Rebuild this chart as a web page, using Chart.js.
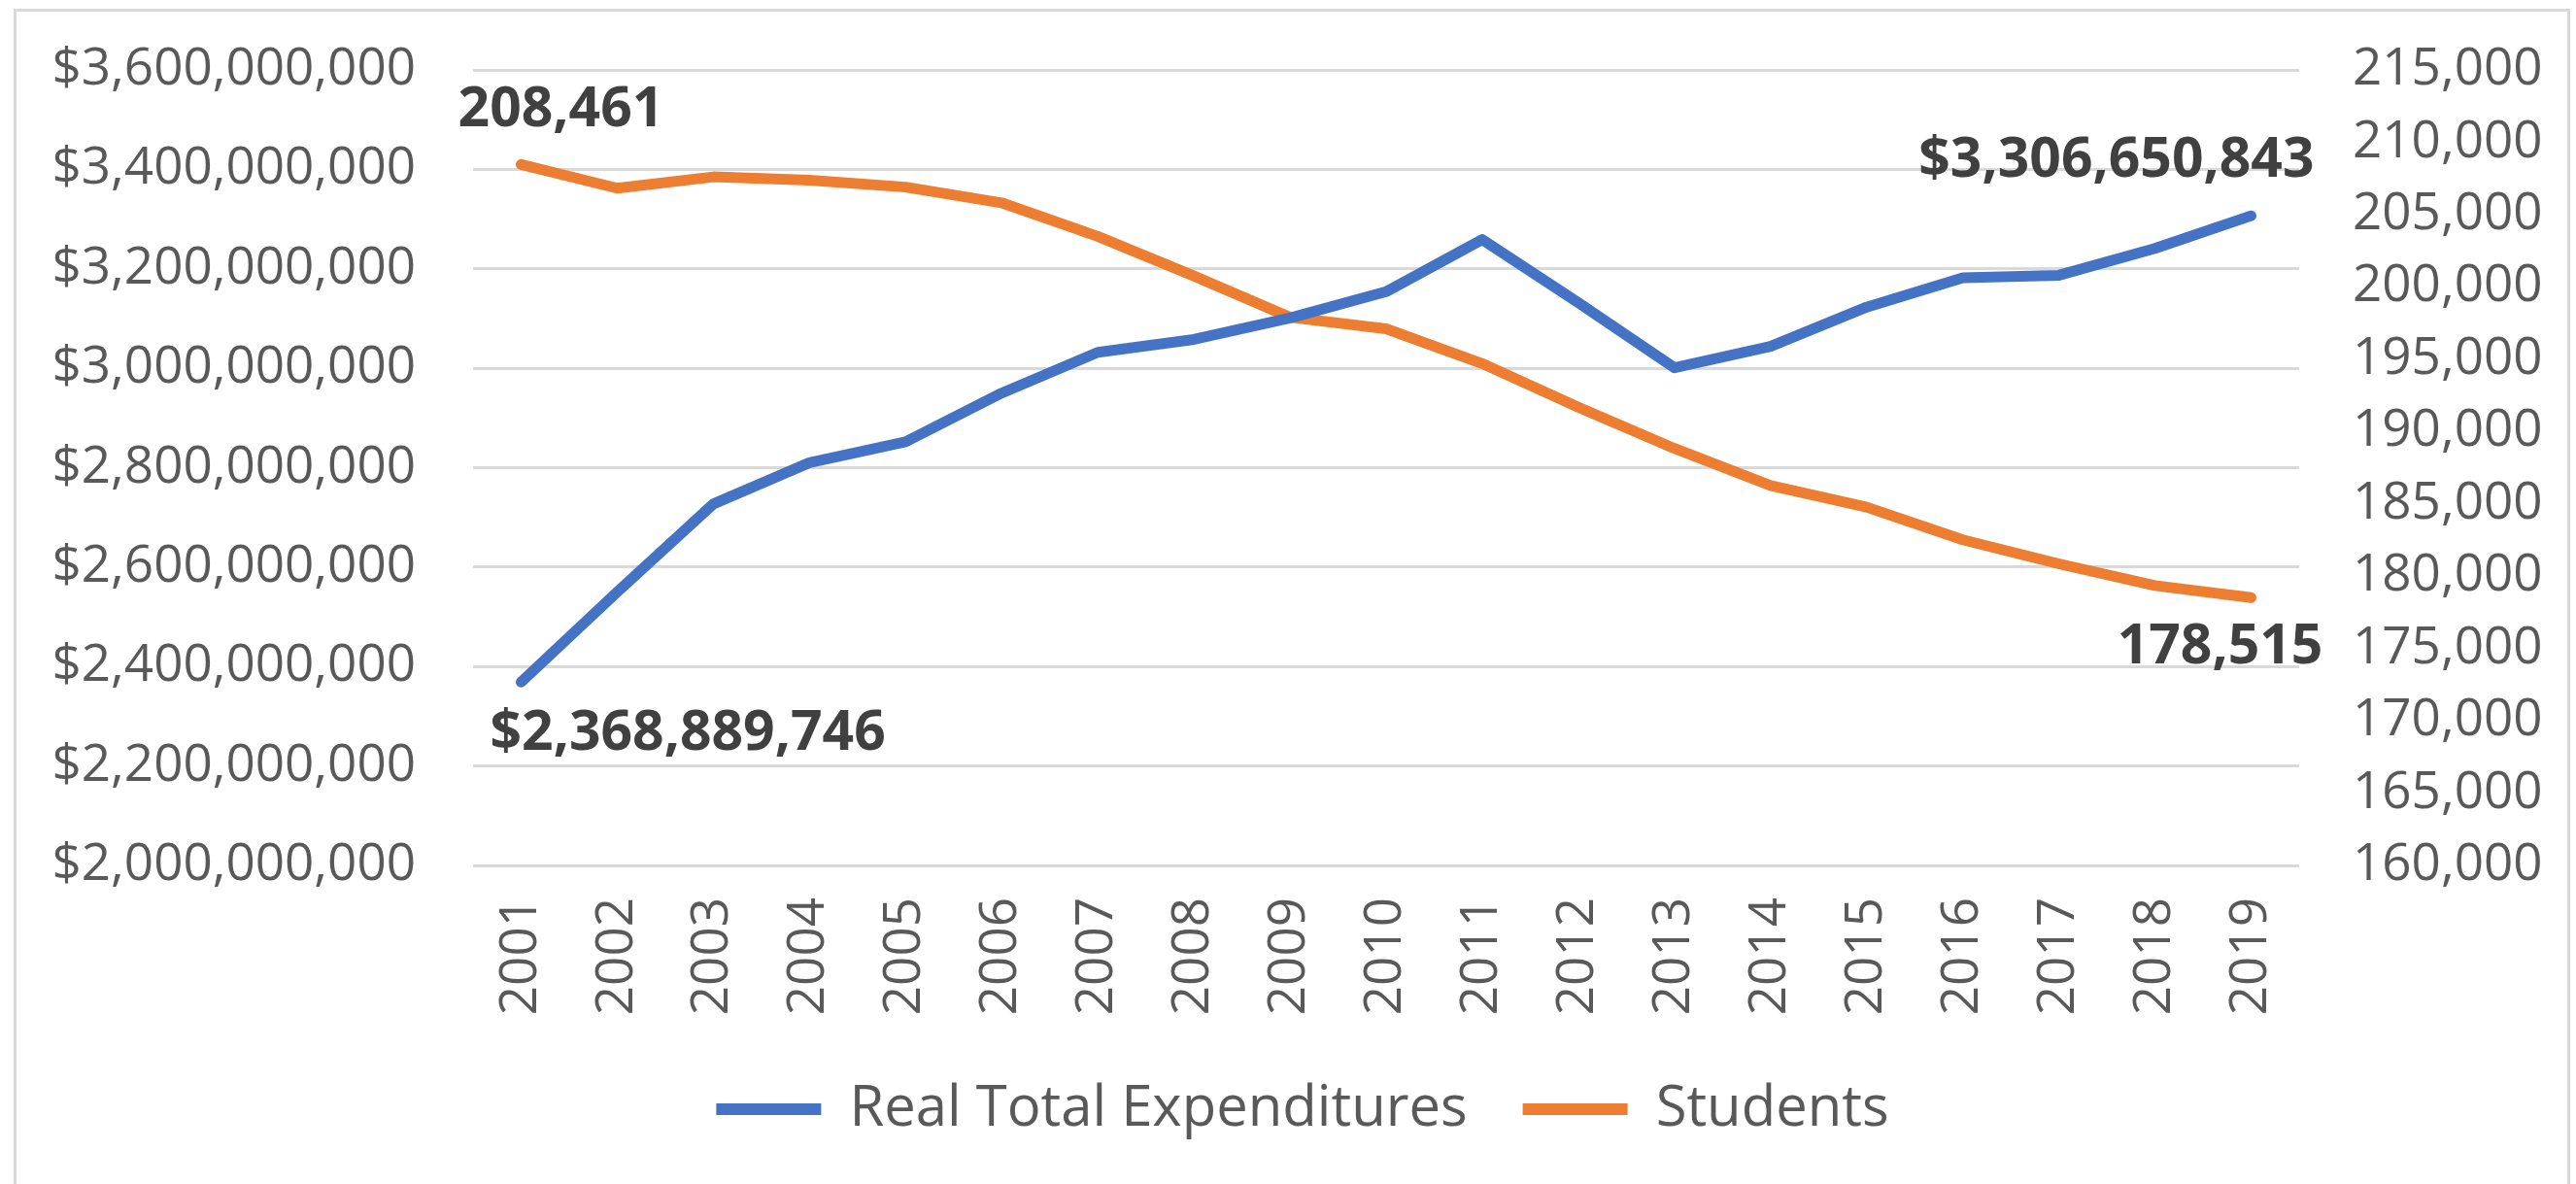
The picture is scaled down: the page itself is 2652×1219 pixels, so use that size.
<!DOCTYPE html>
<html>
<head>
<meta charset="utf-8">
<title>Real Total Expenditures and Students</title>
<script src="https://cdn.jsdelivr.net/npm/chart.js@4"></script>
<style>
  html, body { margin: 0; padding: 0; background: #fff; overflow: hidden; }
  #wrap { position: relative; width: 2652px; height: 1219px; }
  #frame {
    position: absolute; left: 14px; top: 9px; width: 2632px; height: 1240px;
    border: 3px solid #d9d9d9; box-sizing: border-box;
  }
  canvas { position: absolute; left: 0; top: 0; }
</style>
</head>
<body>
<div id="wrap">
  <div id="frame"></div>
  <canvas id="lineChart" width="2652" height="1219"></canvas>
</div>
<script>
// Data (end points are the labelled values)
const years = ["2001", "2002", "2003", "2004", "2005", "2006", "2007", "2008", "2009", "2010",
               "2011", "2012", "2013", "2014", "2015", "2016", "2017", "2018", "2019"];

const expenditures = [2368889746, 2550000000, 2727000000, 2810000000, 2852000000, 2950000000,
                      3032000000, 3058000000, 3101000000, 3154000000, 3259000000, 3132000000,
                      3001000000, 3044000000, 3123000000, 3182000000, 3187000000, 3241000000,
                      3306650843];

const students = [208461, 206826, 207606, 207384, 206900, 205812, 203494, 200757, 197900,
                  197105, 194698, 191686, 188828, 186273, 184770, 182512, 180854, 179351,
                  178515];

const moneyTicks = { min: 2000000000, max: 3600000000, step: 200000000 };
const studentTicks = { min: 160000, max: 215000, step: 5000 };

const BLUE = "#4472C4";
const ORANGE = "#ED7D31";
const TEXT = "#595959";
const FONT = "'Open Sans', 'Noto Sans', sans-serif";

function fmtNum(v) { return Number(v).toLocaleString("en-US"); }
function fmtMoney(v) { return "$" + Number(v).toLocaleString("en-US"); }

// Labels on the first and last point of each line
const endLabels = {
    id: "endLabels",
    afterDatasetsDraw(chart) {
        const ctx = chart.ctx;
        const spots = [
            { ds: 0, idx: 0, dx: -32, dy: 54, align: "left", fmt: fmtMoney },
            { ds: 0, idx: years.length - 1, dx: 65, dy: -56, align: "right", fmt: fmtMoney },
            { ds: 1, idx: 0, dx: 41, dy: -56, align: "center", fmt: fmtNum },
            { ds: 1, idx: years.length - 1, dx: -32, dy: 51, align: "center", fmt: fmtNum }
        ];
        ctx.save();
        ctx.font = "bold 57px " + FONT;
        ctx.fillStyle = "#404040";
        ctx.textBaseline = "middle";
        spots.forEach(s => {
            const pt = chart.getDatasetMeta(s.ds).data[s.idx];
            const val = chart.data.datasets[s.ds].data[s.idx];
            ctx.textAlign = s.align;
            ctx.fillText(s.fmt(val), pt.x + s.dx, pt.y + s.dy);
        });
        ctx.restore();
    }
};

// fixed axis widths, and no extra room asked for the end tick labels
function fitSide(width) {
    return function (scale) {
        scale.width = width;
        scale.paddingTop = 0;
        scale.paddingBottom = 0;
    };
}

const lineCtx = document.getElementById("lineChart").getContext("2d");
const lineChart = new Chart(lineCtx, {
    type: "line",
    data: {
        labels: years,
        datasets: [{
            label: "Real Total Expenditures",
            data: expenditures,
            yAxisID: "y",
            borderColor: BLUE,
            backgroundColor: BLUE,
            borderWidth: 11,
            borderCapStyle: "round",
            borderJoinStyle: "round",
            pointRadius: 0,
            tension: 0
        }, {
            label: "Students",
            data: students,
            yAxisID: "y1",
            borderColor: ORANGE,
            backgroundColor: ORANGE,
            borderWidth: 11,
            borderCapStyle: "round",
            borderJoinStyle: "round",
            pointRadius: 0,
            tension: 0
        }]
    },
    options: {
        responsive: false,
        animation: false,
        layout: { padding: { top: 72, left: 30, right: 0, bottom: 38 } },
        plugins: {
            tooltip: { enabled: false },
            legend: {
                position: "bottom",
                labels: {
                    boxWidth: 108,
                    boxHeight: 12,
                    padding: 57,
                    color: TEXT,
                    font: { family: FONT, size: 58 },
                    generateLabels(chart) {
                        return chart.data.datasets.map((d, i) => ({
                            text: d.label,
                            fillStyle: d.borderColor,
                            strokeStyle: d.borderColor,
                            lineWidth: 0,
                            fontColor: TEXT,
                            datasetIndex: i
                        }));
                    }
                }
            }
        },
        scales: {
            x: {
                offset: true,
                grid: { display: false, drawTicks: false },
                border: { display: false },
                ticks: {
                    color: TEXT,
                    font: { family: FONT, size: 53 },
                    minRotation: 90,
                    maxRotation: 90,
                    padding: 33,
                    autoSkip: false
                },
                afterFit(scale) { scale.height = 165; }
            },
            y: {
                position: "left",
                min: moneyTicks.min,
                max: moneyTicks.max,
                grid: { color: "#d9d9d9", lineWidth: 3, drawTicks: false },
                border: { display: false },
                ticks: {
                    stepSize: moneyTicks.step,
                    color: TEXT,
                    font: { family: FONT, size: 53 },
                    padding: 59,
                    callback: v => fmtMoney(v)
                },
                afterFit: fitSide(457)
            },
            y1: {
                position: "right",
                min: studentTicks.min,
                max: studentTicks.max,
                grid: { display: false, drawTicks: false },
                border: { display: false },
                ticks: {
                    stepSize: studentTicks.step,
                    color: TEXT,
                    font: { family: FONT, size: 53 },
                    padding: 55,
                    callback: v => fmtNum(v)
                },
                afterFit: fitSide(285)
            }
        }
    },
    plugins: [endLabels]
});
</script>
</body>
</html>
